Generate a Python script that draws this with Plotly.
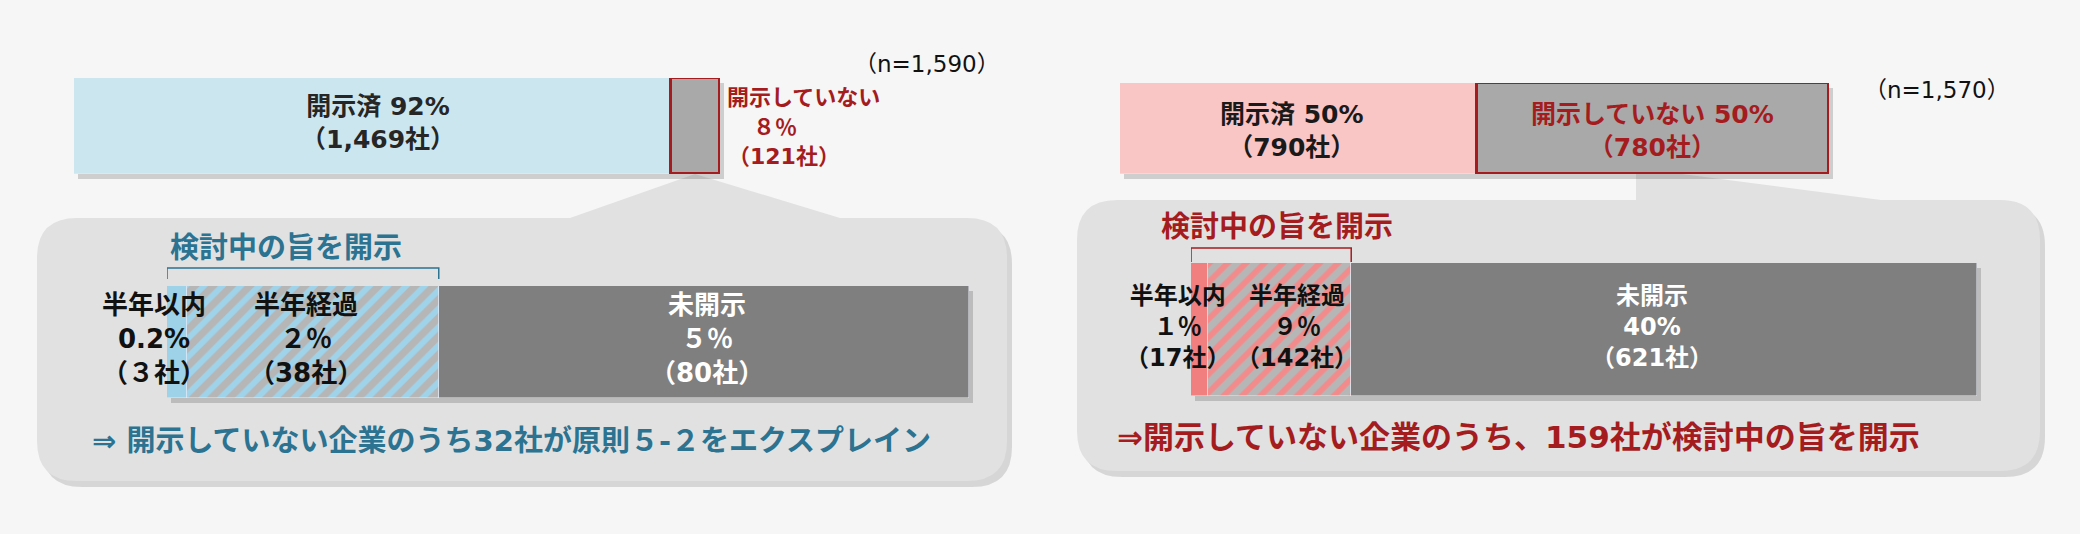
import plotly.graph_objects as go

W, H = 2080, 534

# 左：n=1,590
left_n = 1590
left_top_names = ["開示済", "開示していない"]
left_top_counts = [1469, 121]
left_top_pct = ["92%", "８％"]
left_sub_names = ["半年以内", "半年経過", "未開示"]
left_sub_counts = [3, 38, 80]
left_sub_pct = ["0.2%", "２％", "５％"]
left_note = "⇒ 開示していない企業のうち32社が原則５-２をエクスプレイン"

# 右：n=1,570
right_n = 1570
right_top_names = ["開示済", "開示していない"]
right_top_counts = [790, 780]
right_top_pct = ["50%", "50%"]
right_sub_names = ["半年以内", "半年経過", "未開示"]
right_sub_counts = [17, 142, 621]
right_sub_pct = ["１％", "９％", "40%"]
right_note = "⇒開示していない企業のうち、159社が検討中の旨を開示"

bracket_title = "検討中の旨を開示"

FONT = "DejaVu Sans, Noto Sans CJK JP"
RED = "#a51c1f"
TEAL = "#2b7391"
FW = str.maketrans("0123456789", "０１２３４５６７８９")


def px(x):
    return x / W


def py(y):
    return 1 - y / H


def fmt_count(c):
    s = f"{c:,}"
    if len(s) == 1:
        s = s.translate(FW)
    return f"（{s}社）"


def mids(counts):
    out, acc = [], 0
    for c in counts:
        out.append(acc + c / 2)
        acc += c
    return out


fig = go.Figure()

# 各帯グラフの置き場所 (px)
panels = [
    (74, 720, 78, 174, left_n),                     # 左上
    (167, 969, 286, 398, sum(left_sub_counts)),     # 左下
    (1120, 1829, 83, 174, right_n),                 # 右上
    (1191, 1977, 263, 396, sum(right_sub_counts)),  # 右下
]
axes = {}
for i, (x0, x1, y0, y1, total) in enumerate(panels, 1):
    k = "" if i == 1 else str(i)
    axes[i] = ("x" + k, "y" + k)
    fig.update_layout(**{
        "xaxis" + k: dict(domain=[px(x0), px(x1)], range=[0, total], visible=False,
                          fixedrange=True, anchor="y" + k),
        "yaxis" + k: dict(domain=[py(y1), py(y0)], range=[-0.5, 0.5], visible=False,
                          fixedrange=True, anchor="x" + k),
    })


def add_bar(i, value, color, line=None, pattern=None):
    xa, ya = axes[i]
    marker = dict(color=color)
    if line:
        marker["line"] = dict(color=line, width=3)
    if pattern:
        marker["pattern"] = pattern
    fig.add_trace(go.Bar(x=[value], y=[0], orientation="h", width=1, marker=marker,
                         xaxis=xa, yaxis=ya, hoverinfo="skip", showlegend=False))


def hatch(fg):
    return dict(shape="/", fgcolor=fg, bgcolor="#b6b6b6", size=13, solidity=0.45,
                fillmode="replace")


# 左上
add_bar(1, left_top_counts[0], "#cce6f0")
add_bar(1, left_top_counts[1], "#a9a9a9", line=RED)
# 左下
add_bar(2, left_sub_counts[0], "#9dd2e8")
add_bar(2, left_sub_counts[1], "#b6b6b6", pattern=hatch("#9fd3ea"))
add_bar(2, left_sub_counts[2], "#7f7f7f")
# 右上
add_bar(3, right_top_counts[0], "#fac5c5")
add_bar(3, right_top_counts[1], "#a9a9a9", line=RED)
# 右下
add_bar(4, right_sub_counts[0], "#f27f7f")
add_bar(4, right_sub_counts[1], "#b6b6b6", pattern=hatch("#f28c8c"))
add_bar(4, right_sub_counts[2], "#7f7f7f")

fig.update_layout(barmode="stack", bargap=0)


# 吹き出し
def callout(x0, y0, x1, y1, r, bl, tip, br):
    pts = [
        f"M {px(x0 + r)},{py(y0)}",
        f"L {px(bl[0])},{py(bl[1])}",
        f"L {px(tip[0])},{py(tip[1])}",
        f"L {px(br[0])},{py(br[1])}",
        f"L {px(x1 - r)},{py(y0)}",
        f"Q {px(x1)},{py(y0)} {px(x1)},{py(y0 + r)}",
        f"L {px(x1)},{py(y1 - r)}",
        f"Q {px(x1)},{py(y1)} {px(x1 - r)},{py(y1)}",
        f"L {px(x0 + r)},{py(y1)}",
        f"Q {px(x0)},{py(y1)} {px(x0)},{py(y1 - r)}",
        f"L {px(x0)},{py(y0 + r)}",
        f"Q {px(x0)},{py(y0)} {px(x0 + r)},{py(y0)}",
        "Z",
    ]
    return " ".join(pts)


shapes = []
for (x0, y0, x1, y1, bl, tip, br) in [
    (37, 218, 1007, 481, (570, 218), (695, 174), (840, 218)),
    (1077, 200, 2040, 471, (1636, 200), (1636, 168), (1881, 200)),
]:
    shapes.append(dict(type="path", xref="paper", yref="paper", layer="below",
                       path=callout(x0 + 5, y0 + 6, x1 + 5, y1 + 6, 40,
                                    (bl[0] + 5, bl[1] + 6), (tip[0] + 5, tip[1] + 6),
                                    (br[0] + 5, br[1] + 6)),
                       fillcolor="rgba(0,0,0,0.13)", line=dict(width=0)))
    shapes.append(dict(type="path", xref="paper", yref="paper", layer="below",
                       path=callout(x0, y0, x1, y1, 40, bl, tip, br),
                       fillcolor="#e1e1e1", line=dict(width=0)))

# 帯の影
for (x0, x1, y0, y1, _t) in panels:
    shapes.append(dict(type="rect", xref="paper", yref="paper", layer="below",
                       x0=px(x0 + 4), x1=px(x1 + 4), y0=py(y1 + 5), y1=py(y0 + 5),
                       fillcolor="rgba(0,0,0,0.16)", line=dict(width=0)))

# 括弧
for i, counts, color, ytop, ybot in [(2, left_sub_counts, TEAL, 268, 279),
                                     (4, right_sub_counts, RED, 248, 262)]:
    xa, _ = axes[i]
    s = counts[0] + counts[1]
    shapes.append(dict(type="path", xref=xa, yref="paper",
                       path=f"M 0,{py(ybot)} L 0,{py(ytop)} L {s},{py(ytop)} L {s},{py(ybot)}",
                       line=dict(color=color, width=1.5)))

fig.update_layout(shapes=shapes)

anns = []


def ann(text, x, y, size, color, xref="paper", xanchor="center", bold=True, xshift=0):
    if xref == "paper":
        x = px(x)
    if bold:
        text = "<br>".join(f"<b>{t}</b>" for t in text.split("<br>"))
    anns.append(dict(text=text, x=x, y=py(y), xref=xref,
                     yref="paper", xanchor=xanchor, yanchor="middle", showarrow=False,
                     xshift=xshift, font=dict(family=FONT, size=size, color=color)))


# 左上ラベル
lm = mids(left_top_counts)
ann(f"{left_top_names[0]} {left_top_pct[0]}<br>{fmt_count(left_top_counts[0])}",
    lm[0], 123, 25, "#262626", xref="x", xshift=6)
ann(left_top_names[1], 725, 97, 22, RED, xanchor="left")
ann(left_top_pct[1], 775, 127, 22, RED)
ann(fmt_count(left_top_counts[1]), 784, 157, 22, RED)
ann(f"（n={left_n:,}）", 927, 64, 23, "#111111", bold=False)

# 左下ラベル
sm = mids(left_sub_counts)
xs = [-23, -7, 3]
for j in range(3):
    col = "#ffffff" if j == 2 else "#111111"
    ann(f"{left_sub_names[j]}<br>{left_sub_pct[j]}<br>{fmt_count(left_sub_counts[j])}",
        sm[j], 339, 26, col, xref="x2", xshift=xs[j])
ann(bracket_title, 168, 248, 29, TEAL, xanchor="left")
ann(left_note, 90, 441, 29, TEAL, xanchor="left")

# 右上ラベル
rm = mids(right_top_counts)
ann(f"{right_top_names[0]} {right_top_pct[0]}<br>{fmt_count(right_top_counts[0])}",
    rm[0], 131, 25, "#1a1a1a", xref="x3", xshift=-6)
ann(f"{right_top_names[1]} {right_top_pct[1]}<br>{fmt_count(right_top_counts[1])}",
    rm[1], 131, 25, RED, xref="x3")
ann(f"（n={right_n:,}）", 1937, 90, 23, "#111111", bold=False)

# 右下ラベル
sm = mids(right_sub_counts)
xs = [-22, 17, -12]
for j in range(3):
    col = "#ffffff" if j == 2 else "#111111"
    ann(f"{right_sub_names[j]}<br>{right_sub_pct[j]}<br>{fmt_count(right_sub_counts[j])}",
        sm[j], 327, 24, col, xref="x4", xshift=xs[j])
ann(bracket_title, 1159, 227, 29, RED, xanchor="left")
ann(right_note, 1115, 437, 31, RED, xanchor="left")

fig.update_layout(
    annotations=anns,
    width=W, height=H, autosize=False,
    margin=dict(l=0, r=0, t=0, b=0),
    paper_bgcolor="#f6f6f6",
    plot_bgcolor="rgba(0,0,0,0)",
    font=dict(family=FONT),
)

fig.write_html("out.html", config={"displayModeBar": False},
               post_script="document.body.style.margin='0';")
